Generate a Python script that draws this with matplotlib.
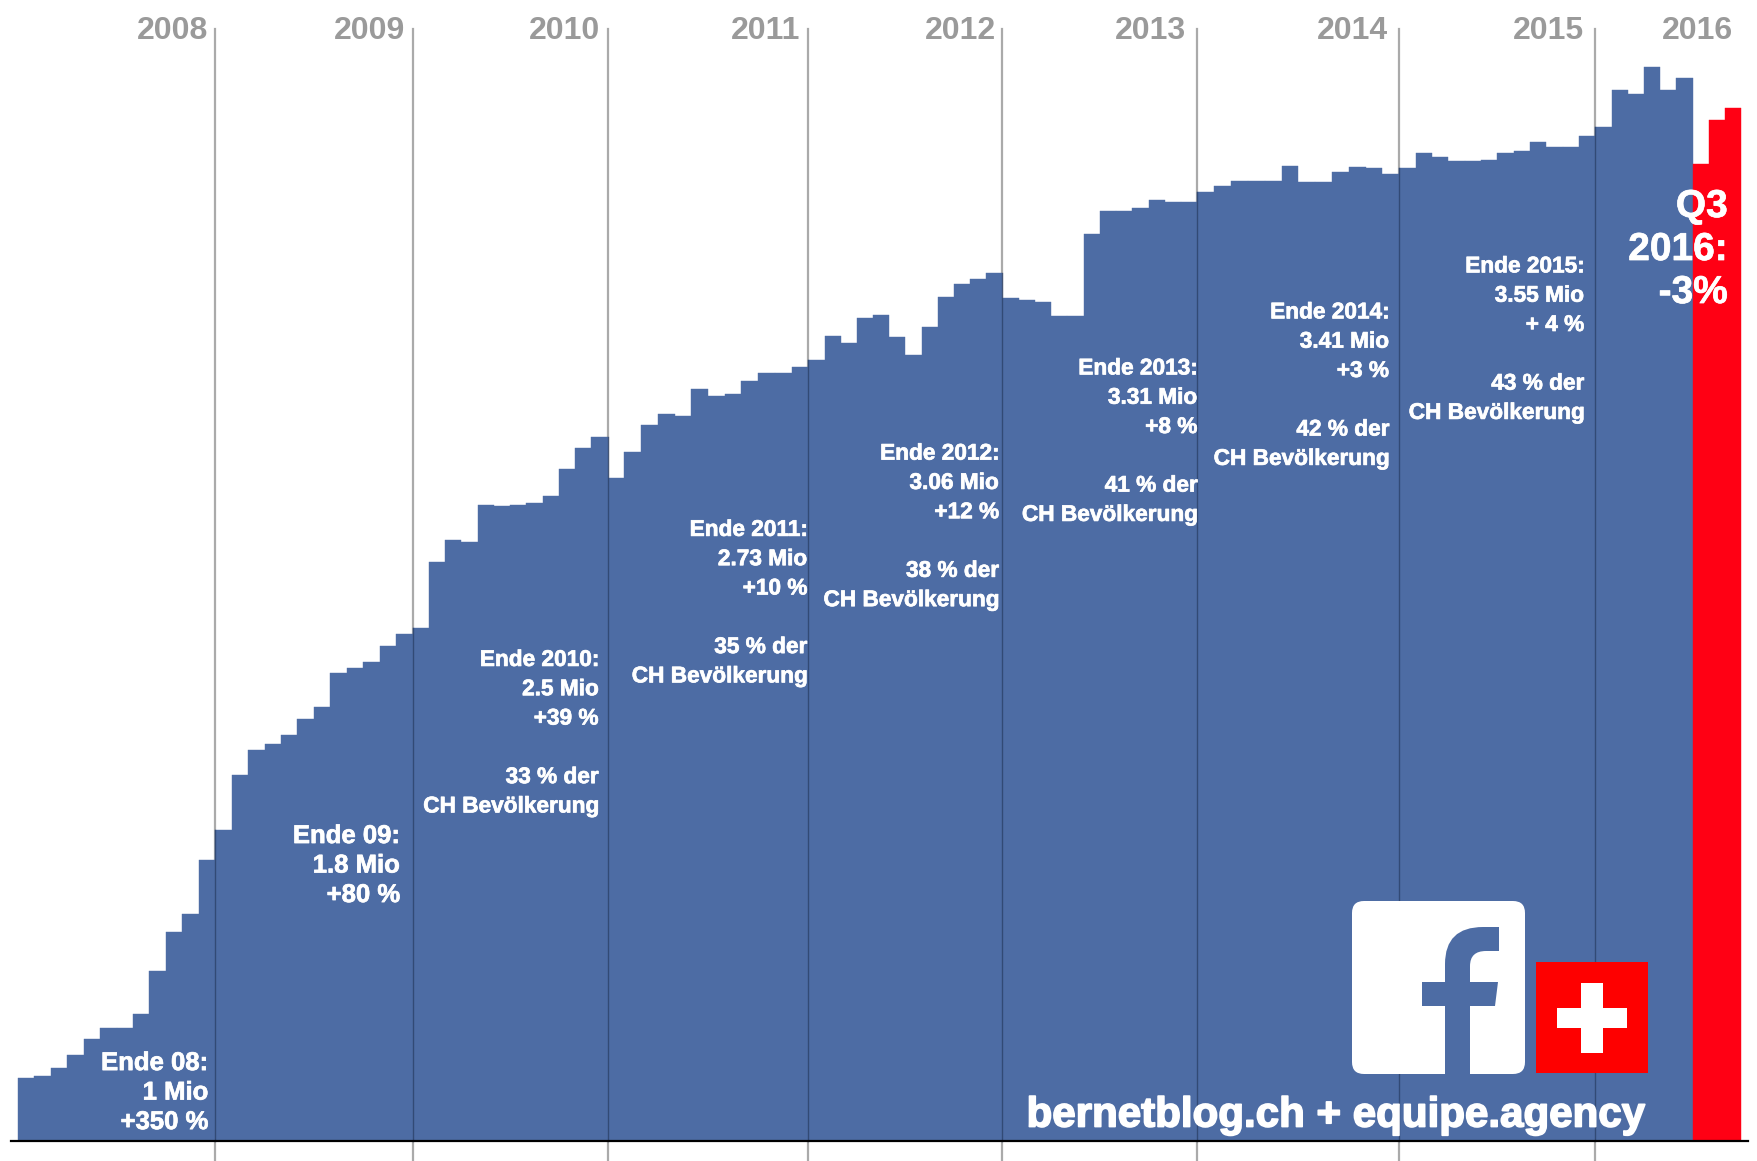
#!/usr/bin/env python
# -*- coding: utf-8 -*-
import matplotlib
matplotlib.use('Agg')
import matplotlib.pyplot as plt
import numpy as np
from matplotlib.patches import FancyBboxPatch, PathPatch, Rectangle
from matplotlib.path import Path
import matplotlib.patheffects as pe

plt.rcParams['font.family'] = ['Liberation Sans', 'DejaVu Sans']

# Facebook users in Switzerland, Mio, one value per month
v2008 = [.223, .228, .259, .303, .359, .400, .400, .448, .600, .739, .802, .992]
v2009 = [1.099, 1.294, 1.382, 1.402, 1.434, 1.490, 1.534, 1.655, 1.672, 1.692, 1.749, 1.793]
v2010 = [1.813, 2.046, 2.122, 2.115, 2.247, 2.242, 2.247, 2.254, 2.280, 2.374, 2.448, 2.487]
v2011 = [2.342, 2.436, 2.531, 2.568, 2.562, 2.657, 2.633, 2.638, 2.687, 2.713, 2.713, 2.734]
v2012 = [2.758, 2.845, 2.819, 2.908, 2.920, 2.840, 2.777, 2.878, 2.984, 3.029, 3.046, 3.067]
v2013 = [2.978, 2.970, 2.966, 2.916, 2.916, 3.204, 3.286, 3.286, 3.298, 3.324, 3.317, 3.317]
v2014 = [3.355, 3.375, 3.392, 3.392, 3.392, 3.444, 3.387, 3.387, 3.424, 3.443, 3.437, 3.418]
v2015 = [3.437, 3.493, 3.476, 3.462, 3.462, 3.468, 3.493, 3.499, 3.531, 3.514, 3.514, 3.551]
v2016_blue = [3.582, 3.715, 3.701, 3.796, 3.715, 3.758]
v2016_red = [3.451, 3.608, 3.651]

years = ['2008', '2009', '2010', '2011', '2012', '2013', '2014', '2015', '2016']
notes = [
    'Ende 08:\n1 Mio\n+350 %',
    'Ende 09:\n1.8 Mio\n+80 %',
    'Ende 2010:\n2.5 Mio\n+39 %\n\n33 % der\nCH Bevölkerung',
    'Ende 2011:\n2.73 Mio\n+10 %\n\n35 % der\nCH Bevölkerung',
    'Ende 2012:\n3.06 Mio\n+12 %\n\n38 % der\nCH Bevölkerung',
    'Ende 2013:\n3.31 Mio\n+8 %\n\n41 % der\nCH Bevölkerung',
    'Ende 2014:\n3.41 Mio\n+3 %\n\n42 % der\nCH Bevölkerung',
    'Ende 2015:\n3.55 Mio\n+ 4 %\n\n43 % der\nCH Bevölkerung',
]

BLUE = '#4d6ca4'
RED = '#ff0014'
GREY = '#9a9a9a'
S = 1758 / 1568.0   # the positions below were read on the shrunk picture

# the years are not drawn quite the same width, so the month axis is piecewise
month_knots = [-1.09, 0, 12, 24, 36, 48, 60, 72, 84, 96, 105, 106.03]
px_knots = [0, 16, 192, 368, 542, 721, 894, 1068, 1248, 1423, 1553, 1568]


def to_px(m):
    return np.interp(m, month_knots, px_knots)


def from_px(p):
    return np.interp(p, px_knots, month_knots)


fig = plt.figure(figsize=(17.58, 11.61), dpi=100, facecolor='white')
ax = fig.add_axes([0, 0, 1, 1])
ax.set_xscale('function', functions=(to_px, from_px))
ax.set_xlim(-1.09, 106.03)
ax.set_ylim(-0.0713, 4.032)
ax.axis('off')

blue = v2008 + v2009 + v2010 + v2011 + v2012 + v2013 + v2014 + v2015 + v2016_blue
xs = np.arange(len(blue)) + 0.5
xr = np.arange(len(v2016_red)) + len(blue) + 0.5
ax.bar(xs, blue, width=1.0, color=BLUE, edgecolor=BLUE, linewidth=0.3, zorder=2)
ax.bar(xr, v2016_red, width=1.0, color=RED, edgecolor=RED, linewidth=0.3, zorder=2)

# year lines: grey on white, darker where they cross the bars
for i in range(1, 9):
    m = i * 12
    ax.plot([m, m], [-0.0713, 3.93], color='#aaaaaa', lw=1.6, zorder=1)
    ax.plot([m, m], [0, max(blue[m - 1], blue[m])], color='#2a3f66', lw=1.0, alpha=.75, zorder=3)
ax.plot([-0.4, 105.4], [0, 0], color='black', lw=1.6, zorder=4)

# overlay in pixels for the texts and the logos
ov = fig.add_axes([0, 0, 1, 1])
ov.set_xlim(0, 1758)
ov.set_ylim(1161, 0)
ov.axis('off')
ov.patch.set_alpha(0)

year_right = [186, 361, 535, 714, 888, 1058, 1238, 1413, 1546]
for y, r in zip(years, year_right):
    ov.text(r * S, 31, y, ha='right', va='center', color=GREY, fontsize=23, fontweight='bold')

heavy = [pe.withStroke(linewidth=0.5, foreground='white')]
note_right = [186, 357, 534, 720, 891, 1068, 1239, 1413]
note_mid = [974.5, 772, 653.5, 537.5, 469.5, 393.5, 343.5, 302.5]
for i, t in enumerate(notes):
    size = 18.5 if i < 2 else 16.3
    spacing = 1.29 if i < 2 else 1.35
    ov.text(note_right[i] * S, note_mid[i] * S, t, ha='right', va='center', ma='right', color='white',
            fontsize=size, fontweight='bold', linespacing=spacing, zorder=6, path_effects=heavy)

ov.text(1541 * S, 223 * S, 'Q3\n2016:\n-3%', ha='right', va='center', ma='right', color='white',
        fontsize=28, fontweight='bold', linespacing=1.25, zorder=6, path_effects=heavy)
ov.text(1192 * S, 995 * S, 'bernetblog.ch + equipe.agency', ha='center', va='center', color='white',
        fontsize=30.3, fontweight='bold', zorder=6,
        path_effects=[pe.withStroke(linewidth=1.2, foreground='white')])

# facebook logo
ov.add_patch(FancyBboxPatch((1360, 909), 157, 157, boxstyle='round,pad=8,rounding_size=12',
                            fc='white', ec='none', zorder=5))
f_verts = [(1445, 1074), (1445, 1006), (1422, 1006), (1422, 982), (1445, 982), (1445, 964),
           (1445, 927), (1483, 927), (1499, 927), (1499, 951), (1486, 951),
           (1470, 951), (1470, 966), (1470, 982), (1498, 982), (1495, 1006),
           (1470, 1006), (1470, 1074), (1445, 1074)]
f_codes = [Path.MOVETO, Path.LINETO, Path.LINETO, Path.LINETO, Path.LINETO, Path.LINETO,
           Path.CURVE3, Path.CURVE3, Path.LINETO, Path.LINETO, Path.LINETO,
           Path.CURVE3, Path.CURVE3, Path.LINETO, Path.LINETO, Path.LINETO,
           Path.LINETO, Path.LINETO, Path.CLOSEPOLY]
ov.add_patch(PathPatch(Path(f_verts, f_codes), fc=BLUE, ec='none', zorder=6))

# swiss flag
ov.add_patch(Rectangle((1536, 962), 112, 111, fc='#fe0000', ec='none', zorder=5))
ov.add_patch(Rectangle((1581, 983), 22, 70, fc='white', ec='none', zorder=6))
ov.add_patch(Rectangle((1557, 1008), 70, 20, fc='white', ec='none', zorder=6))

fig.savefig('out.png', dpi=100)
